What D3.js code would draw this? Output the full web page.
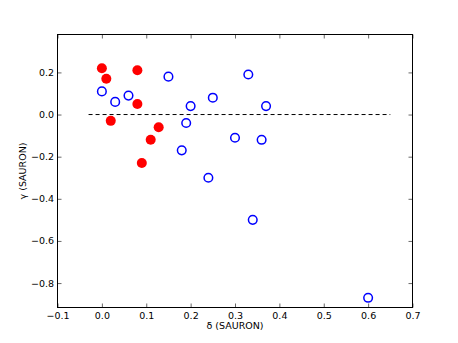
<!DOCTYPE html>
<html>
<head>
<meta charset="utf-8">
<script src="https://cdn.jsdelivr.net/npm/d3@7"></script>
<style>
  body { margin: 0; background: #fff; }
  svg text { font-family: "DejaVu Sans", sans-serif; }
</style>
</head>
<body>
<div id="chart"></div>
<script>
// data
var redDelta = [0.00, 0.01, 0.08, 0.08, 0.02, 0.128, 0.11, 0.09];
var redGamma = [0.22, 0.17, 0.21, 0.05, -0.03, -0.06, -0.12, -0.23];

var blueDelta = [0.00, 0.03, 0.06, 0.15, 0.33, 0.25, 0.20, 0.37, 0.19, 0.30, 0.36, 0.18, 0.24, 0.34, 0.60];
var blueGamma = [0.11, 0.06, 0.09, 0.18, 0.19, 0.08, 0.04, 0.04, -0.04, -0.11, -0.12, -0.17, -0.30, -0.50, -0.87];

var xTicks = [-0.1, 0.0, 0.1, 0.2, 0.3, 0.4, 0.5, 0.6, 0.7];
var yTicks = [0.2, 0.0, -0.2, -0.4, -0.6, -0.8];
var zeroLine = [-0.03, 0.65];

var width = 458, height = 343;
var margin = {left: 57.5, right: 45.5, top: 34.5, bottom: 35.5};

var svg = d3.select("#chart").append("svg")
  .attr("width", width)
  .attr("height", height);

var x = d3.scaleLinear().domain([-0.1, 0.7]).range([margin.left, width - margin.right]);
var y = d3.scaleLinear().domain([-0.916, 0.38]).range([height - margin.bottom, margin.top]);

var fmt = function(d) { return d3.format(".1f")(d).replace("-", "\u2212"); };

// dashed zero line
svg.append("line")
  .attr("x1", x(zeroLine[0])).attr("x2", x(zeroLine[1]))
  .attr("y1", y(0)).attr("y2", y(0))
  .attr("stroke", "#000")
  .attr("stroke-width", 1)
  .attr("stroke-dasharray", "4,3");

// red filled points
svg.append("g").selectAll("circle")
  .data(redDelta)
  .enter().append("circle")
    .attr("cx", function(d) { return x(d); })
    .attr("cy", function(d, i) { return y(redGamma[i]); })
    .attr("r", 5)
    .attr("fill", "#ff0000");

// blue open points
svg.append("g").selectAll("circle")
  .data(blueDelta)
  .enter().append("circle")
    .attr("cx", function(d) { return x(d); })
    .attr("cy", function(d, i) { return y(blueGamma[i]); })
    .attr("r", 4.3)
    .attr("fill", "none")
    .attr("stroke", "#0000ff")
    .attr("stroke-width", 1.5);

// axes, ticks inward on all sides
var bottomAxis = d3.axisBottom(x).tickValues(xTicks).tickSize(-4).tickPadding(4.5).tickFormat(fmt);
var topAxis = d3.axisTop(x).tickValues(xTicks).tickSize(-4).tickFormat("");
var leftAxis = d3.axisLeft(y).tickValues(yTicks).tickSize(-4).tickPadding(3.5).tickFormat(fmt);
var rightAxis = d3.axisRight(y).tickValues(yTicks).tickSize(-4).tickFormat("");

function styleAxis(g) {
  g.select(".domain").remove();
  g.selectAll(".tick line").attr("stroke", "#000").attr("stroke-width", 0.6);
  g.selectAll("text").attr("font-size", 9.5).attr("fill", "#000")
    .style("font-family", "'DejaVu Sans', sans-serif");
}

svg.append("g").attr("transform", "translate(0," + y.range()[0] + ")").call(bottomAxis).call(styleAxis);
svg.append("g").attr("transform", "translate(0," + y.range()[1] + ")").call(topAxis).call(styleAxis);
svg.append("g").attr("transform", "translate(" + x.range()[0] + ",0)").call(leftAxis).call(styleAxis);
svg.append("g").attr("transform", "translate(" + x.range()[1] + ",0)").call(rightAxis).call(styleAxis);

// frame
svg.append("rect")
  .attr("x", x.range()[0]).attr("y", y.range()[1])
  .attr("width", x.range()[1] - x.range()[0])
  .attr("height", y.range()[0] - y.range()[1])
  .attr("fill", "none")
  .attr("stroke", "#000")
  .attr("stroke-width", 1);

// axis labels
svg.append("text")
  .attr("x", (x.range()[0] + x.range()[1]) / 2)
  .attr("y", 329)
  .attr("text-anchor", "middle")
  .attr("font-size", 9.5)
  .text("\u03b4 (SAURON)");

svg.append("text")
  .attr("transform", "translate(26," + ((y.range()[0] + y.range()[1]) / 2) + ") rotate(-90)")
  .attr("text-anchor", "middle")
  .attr("font-size", 9.5)
  .text("\u03b3 (SAURON)");
</script>
</body>
</html>
